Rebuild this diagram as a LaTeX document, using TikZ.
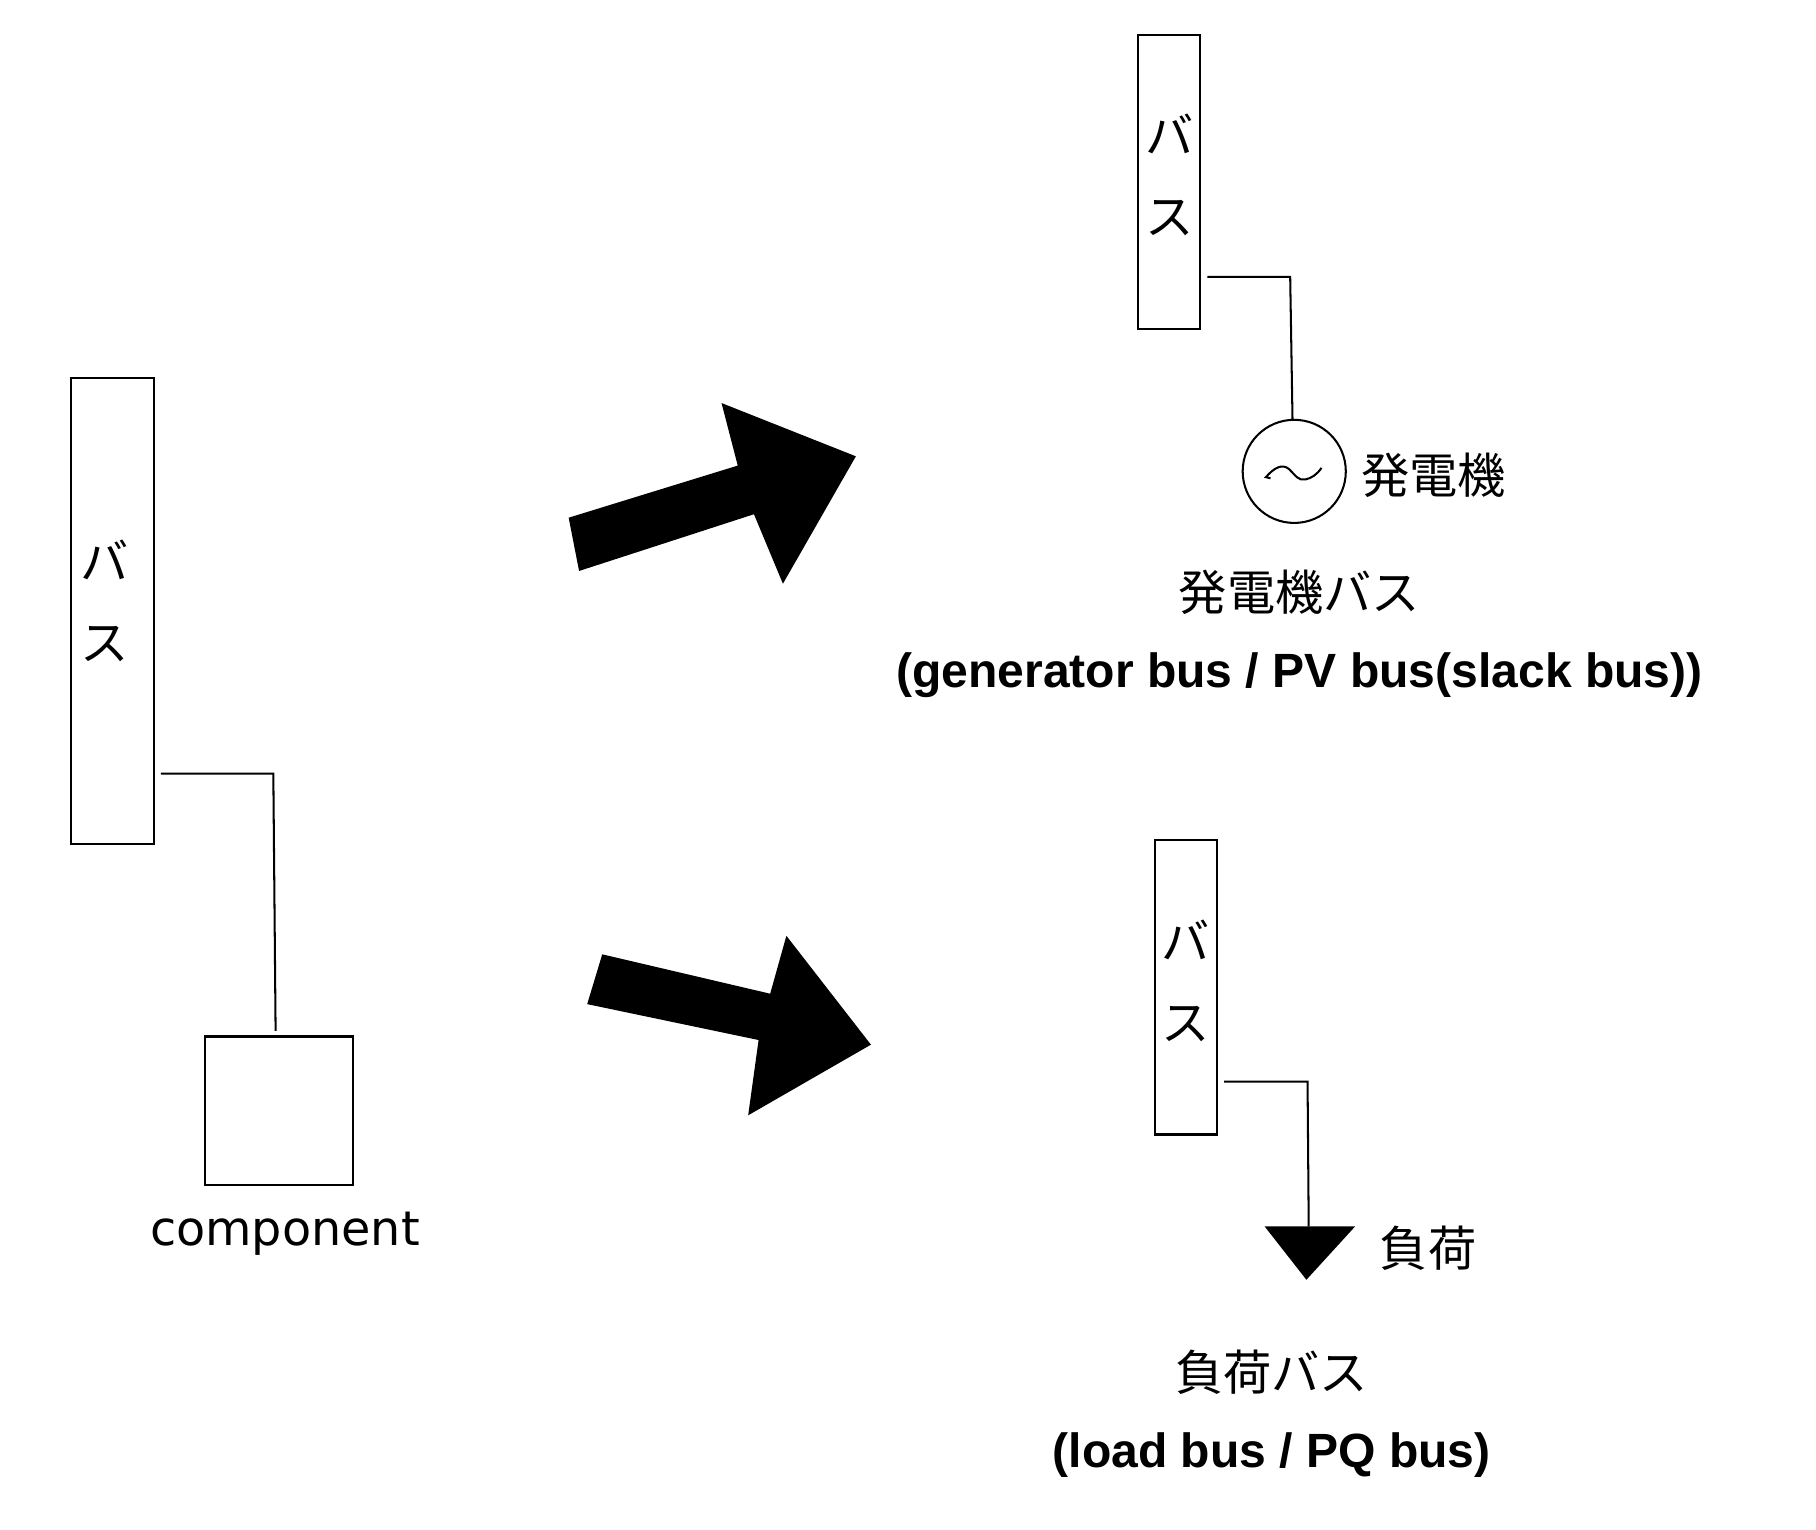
\documentclass[tikz,border=0pt]{standalone}
\usepackage{fontspec}
\setmainfont{Liberation Sans}
\newfontfamily\cjk{Noto Sans CJK JP}
\newfontfamily\latn{DejaVu Sans}
\usetikzlibrary{positioning,calc,shapes.geometric}
\tikzset{
  wire/.style={line width=0.5pt,shorten <=0.05cm},
  busbox/.style={draw,line width=0.5pt,minimum width=0.54cm,minimum height=2.54cm,inner sep=0pt},
  buslabel/.style={font=\cjk\fontsize{11.85}{19.9}\selectfont,align=center,inner sep=0pt},
  jptext/.style={font=\cjk\fontsize{11.85}{14}\selectfont,inner sep=0pt},
  entext/.style={font=\bfseries\fontsize{11.8}{14}\selectfont,inner sep=0pt},
  bigarrow/.style={fill=black}
}
\begin{document}
\begin{tikzpicture}[x=0.01cm,y=-0.01cm,line join=miter]
\useasboundingbox (0,0) rectangle (1568,1321);
% left bus and component
\node[busbox,minimum width=0.72cm,minimum height=4.02cm] (busA) at (97,527.5) {};
\node[buslabel] (busAtext) at (90,519) {バ\\ス};
\node[draw,line width=0.5pt,minimum size=1.28cm,inner sep=0pt] (comp) at (241,959) {};
\node[font=\latn\fontsize{11.7}{14}\selectfont,inner sep=0pt] (compname) at (246,1065) {component};
\coordinate (a1) at (236,668);
\draw[wire,shorten >=0.04cm] (busA.east |- a1) -- (a1) -- ($(comp.north)+(-3,0)$);
% big arrows
\fill[bigarrow] (491,447)--(637,402)--(623,348)--(739,394)--(676,504)--(651,444)--(500,493)--cycle;
\fill[bigarrow] (520,824)--(665,858)--(679,808)--(752,902)--(646,963)--(655,898)--(507,867)--cycle;
% generator bus
\node[busbox] (busG) at (1009.5,157) {};
\node[buslabel] (busGtext) at (1010,151) {バ\\ス};
\node[circle,draw,line width=0.5pt,minimum size=0.89cm,inner sep=0pt] (gen) at (1117.5,407) {};
\coordinate (g1) at (1114,239);
\draw[wire] (busG.east |- g1) -- (g1) -- ($(gen.north)+(-1.5,0)$);
\draw[line width=0.5pt] (1097,413)--(1093,412) .. controls (1100,404) and (1107,400) .. (1113,405) .. controls (1119,411) and (1121,415) .. (1127,414) .. controls (1132,413) and (1137,410) .. (1141,404);
\node[jptext] (genname) at (1238,410) {発電機};
\node[jptext] (genbus) at (1122,511) {発電機バス};
\node[entext] (genbusen) at (1122,583) {(generator bus / PV bus(slack bus))};
% load bus
\node[busbox] (busL) at (1024,852.5) {};
\node[buslabel] (busLtext) at (1024,847) {バ\\ス};
\coordinate (l1) at (1129,934);
\coordinate (load) at (1130,1059);
\draw[wire] (busL.east |- l1) -- (l1) -- (load);
\fill (1092,1059) -- (1170,1059) -- (1128,1105) -- cycle;
\node[jptext] (loadname) at (1233,1078) {負荷};
\node[jptext] (loadbus) at (1098,1185) {負荷バス};
\node[entext] (loadbusen) at (1098,1256) {(load bus / PQ bus)};
\end{tikzpicture}
\end{document}
